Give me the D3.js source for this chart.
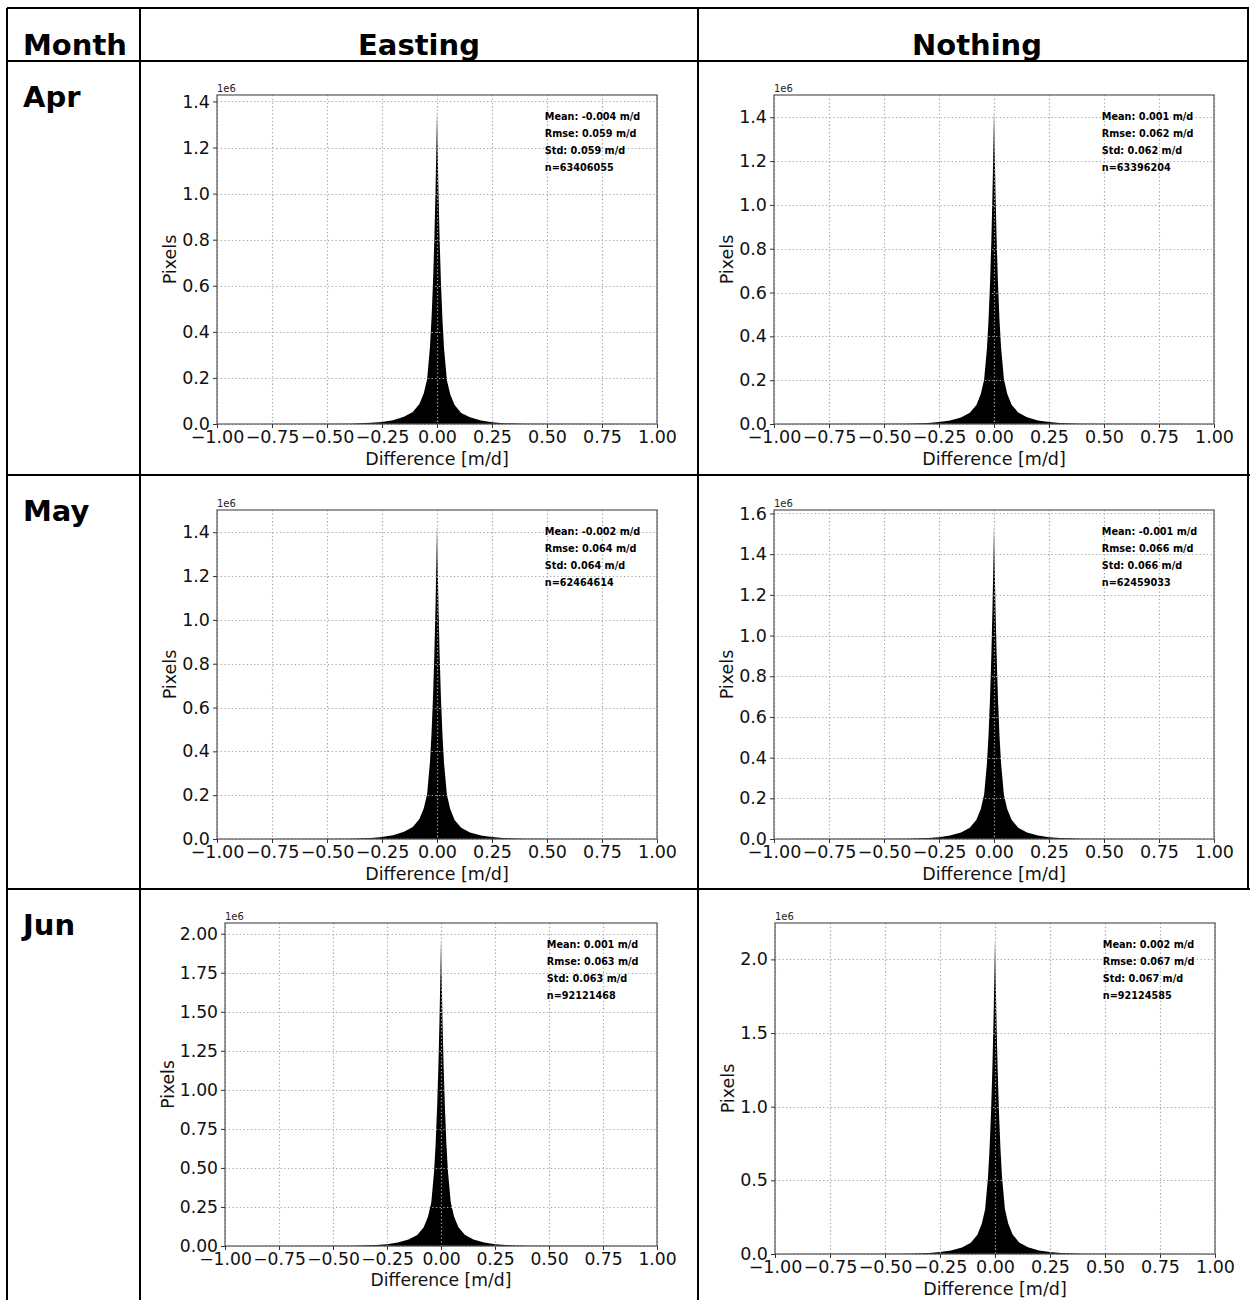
<!DOCTYPE html>
<html>
<head>
<meta charset="utf-8">
<script src="https://cdn.jsdelivr.net/npm/d3@7"></script>
<style>
  body { margin: 0; background: #fff; }
  svg text { font-family: 'DejaVu Sans', sans-serif; }
</style>
</head>
<body>
<div id="chart"></div>
<script>
// Table content
const months = ['Apr', 'May', 'Jun'];
const components = ['Easting', 'Nothing'];

// Histogram outline samples: difference [m/d] -> pixel count (x1e6)
const diffSamples = [-1, -0.4, -0.3, -0.25, -0.2, -0.15, -0.11, -0.08, -0.06, -0.045, -0.032, -0.025, -0.018, -0.012, -0.007, -0.003,
  0, 0.003, 0.007, 0.012, 0.018, 0.025, 0.032, 0.045, 0.06, 0.08, 0.11, 0.15, 0.2, 0.25, 0.3, 0.4, 1];

const aprEasting = [0, 0.001, 0.005, 0.009, 0.016, 0.031, 0.052, 0.087, 0.133, 0.194, 0.333, 0.456, 0.619, 0.802, 1.0, 1.193,
  1.36, 1.19, 0.997, 0.798, 0.612, 0.449, 0.328, 0.19, 0.129, 0.082, 0.048, 0.029, 0.015, 0.0075, 0.0034, 0.0008, 0];
const aprNothing = [0, 0.001, 0.0043, 0.0086, 0.0157, 0.030, 0.0515, 0.087, 0.137, 0.202, 0.346, 0.472, 0.644, 0.839, 1.048, 1.251,
  1.43, 1.255, 1.05, 0.842, 0.647, 0.475, 0.35, 0.205, 0.138, 0.088, 0.052, 0.031, 0.0165, 0.0088, 0.0044, 0.0011, 0];
const mayEasting = [0, 0.0013, 0.005, 0.0093, 0.0172, 0.0329, 0.0543, 0.0915, 0.140, 0.204, 0.350, 0.479, 0.651, 0.844, 1.051, 1.254,
  1.43, 1.251, 1.048, 0.839, 0.644, 0.472, 0.346, 0.202, 0.137, 0.087, 0.0515, 0.030, 0.0157, 0.0086, 0.0043, 0.001, 0];
const mayNothing = [0, 0.0011, 0.0046, 0.0092, 0.0169, 0.0323, 0.0554, 0.094, 0.148, 0.217, 0.373, 0.508, 0.693, 0.904, 1.129, 1.348,
  1.54, 1.348, 1.129, 0.904, 0.693, 0.508, 0.373, 0.217, 0.148, 0.094, 0.0554, 0.0323, 0.0169, 0.0092, 0.0046, 0.0011, 0];
const junEasting = [0, 0.0014, 0.0059, 0.0118, 0.0217, 0.0414, 0.0709, 0.120, 0.189, 0.278, 0.477, 0.650, 0.887, 1.156, 1.444, 1.724,
  1.97, 1.727, 1.447, 1.159, 0.89, 0.653, 0.48, 0.281, 0.191, 0.122, 0.072, 0.042, 0.022, 0.012, 0.006, 0.0015, 0];
const junNothing = [0, 0.0015, 0.0064, 0.0128, 0.0235, 0.0449, 0.077, 0.131, 0.205, 0.302, 0.518, 0.706, 0.963, 1.256, 1.569, 1.873,
  2.14, 1.876, 1.572, 1.259, 0.966, 0.709, 0.521, 0.305, 0.207, 0.133, 0.078, 0.046, 0.024, 0.013, 0.0066, 0.0016, 0];

// Stats printed in each panel (Apr E, Apr N, May E, May N, Jun E, Jun N)
const statMean = [-0.004, 0.001, -0.002, -0.001, 0.001, 0.002];
const statRmse = [0.059, 0.062, 0.064, 0.066, 0.063, 0.067];
const statStd = [0.059, 0.062, 0.064, 0.066, 0.063, 0.067];
const statN = [63406055, 63396204, 62464614, 62459033, 92121468, 92124585];

// Ticks
const xTicks = [-1, -0.75, -0.5, -0.25, 0, 0.25, 0.5, 0.75, 1];
const yTicks14 = [0, 0.2, 0.4, 0.6, 0.8, 1.0, 1.2, 1.4];
const yTicks16 = [0, 0.2, 0.4, 0.6, 0.8, 1.0, 1.2, 1.4, 1.6];
const yTicks200 = [0, 0.25, 0.5, 0.75, 1.0, 1.25, 1.5, 1.75, 2.0];
const yTicks20 = [0, 0.5, 1.0, 1.5, 2.0];

const W = 1250, H = 1300;

const svg = d3.select('#chart').append('svg')
  .attr('width', W)
  .attr('height', H);

svg.append('rect').attr('width', W).attr('height', H).attr('fill', '#fff');

// Panels: axes box in page pixels, s = image scale inside the cell
const panels = [
  { data: aprEasting, yTicks: yTicks14, fmt: '.1f', box: [217, 95, 657, 424], s: 1 },
  { data: aprNothing, yTicks: yTicks14, fmt: '.1f', box: [774, 95, 1214, 424], s: 1 },
  { data: mayEasting, yTicks: yTicks14, fmt: '.1f', box: [217, 510, 657, 839], s: 1 },
  { data: mayNothing, yTicks: yTicks16, fmt: '.1f', box: [774, 510, 1214, 839], s: 1 },
  { data: junEasting, yTicks: yTicks200, fmt: '.2f', box: [225, 923, 657, 1246], s: 0.982 },
  { data: junNothing, yTicks: yTicks20, fmt: '.1f', box: [775, 923, 1215, 1254], s: 1 }
];

const baseFont = 17.5;

panels.forEach((p, i) => {
  const [left, top, right, bottom] = p.box;
  const fs = baseFont * p.s;
  const points = diffSamples.map((d, k) => [d, p.data[k]]);

  const x = d3.scaleLinear().domain([-1, 1]).range([left, right]);
  const y = d3.scaleLinear().domain([0, d3.max(p.data) * 1.05]).range([bottom, top]);

  const g = svg.append('g');

  // histogram body
  g.append('path')
    .datum(points)
    .attr('fill', '#000')
    .attr('d', d3.area()
      .x(d => x(d[0]))
      .y0(y(0))
      .y1(d => y(d[1])));

  // grid on top of the bars (classic style)
  g.selectAll('.gx')
    .data(xTicks)
    .enter()
    .append('line')
    .attr('x1', d => Math.round(x(d)) + 0.5)
    .attr('x2', d => Math.round(x(d)) + 0.5)
    .attr('y1', top)
    .attr('y2', bottom)
    .attr('stroke', '#a8a8a8')
    .attr('stroke-width', 1.2)
    .attr('stroke-dasharray', '1.3,2.4');

  g.selectAll('.gy')
    .data(p.yTicks)
    .enter()
    .append('line')
    .attr('x1', left)
    .attr('x2', right)
    .attr('y1', d => Math.round(y(d)) + 0.5)
    .attr('y2', d => Math.round(y(d)) + 0.5)
    .attr('stroke', '#a8a8a8')
    .attr('stroke-width', 1.2)
    .attr('stroke-dasharray', '1.3,2.4');

  // frame
  g.append('rect')
    .attr('x', left)
    .attr('y', top)
    .attr('width', right - left)
    .attr('height', bottom - top)
    .attr('fill', 'none')
    .attr('stroke', '#555')
    .attr('stroke-width', 1.2);

  // axes
  const xAxisG = g.append('g')
    .attr('transform', `translate(0,${bottom})`)
    .call(d3.axisBottom(x)
      .tickValues(xTicks)
      .tickFormat(d3.format('.2f'))
      .tickSize(4)
      .tickPadding(3));

  const yAxisG = g.append('g')
    .attr('transform', `translate(${left},0)`)
    .call(d3.axisLeft(y)
      .tickValues(p.yTicks)
      .tickFormat(d3.format(p.fmt))
      .tickSize(4)
      .tickPadding(3));

  [xAxisG, yAxisG].forEach(a => {
    a.select('.domain').remove();
    a.selectAll('.tick line').attr('stroke', '#333');
    a.selectAll('.tick text')
      .attr('fill', '#111')
      .style('font-family', "'DejaVu Sans', sans-serif")
      .style('font-size', fs + 'px');
  });

  // offset label
  g.append('text')
    .attr('x', left)
    .attr('y', top - 3)
    .style('font-size', '10px')
    .attr('fill', '#222')
    .text('1e6');

  // axis titles
  g.append('text')
    .attr('x', (left + right) / 2)
    .attr('y', bottom + 40.5 * p.s)
    .attr('text-anchor', 'middle')
    .style('font-size', fs + 'px')
    .attr('fill', '#111')
    .text('Difference [m/d]');

  const yBox = yAxisG.node().getBBox();
  g.append('text')
    .attr('transform', `translate(${left + yBox.x - 6},${(top + bottom) / 2}) rotate(-90)`)
    .attr('text-anchor', 'middle')
    .style('font-size', fs + 'px')
    .attr('fill', '#111')
    .text('Pixels');

  // stats block
  const lines = [
    `Mean: ${statMean[i].toFixed(3)} m/d`,
    `Rmse: ${statRmse[i].toFixed(3)} m/d`,
    `Std: ${statStd[i].toFixed(3)} m/d`,
    `n=${statN[i]}`
  ];
  g.selectAll('.stat')
    .data(lines)
    .enter()
    .append('text')
    .attr('x', left + 0.745 * (right - left))
    .attr('y', (d, k) => top + 25 + k * 17)
    .style('font-size', '9.7px')
    .style('font-weight', 'bold')
    .attr('fill', '#000')
    .text(d => d);
});

// Table grid
const tableLines = [
  [7, 8, 1249, 8], [7, 61, 1249, 61], [7, 475, 1250, 475], [7, 889, 1250, 889],
  [7, 8, 7, 1300], [140, 8, 140, 1300], [698, 8, 698, 1300], [1248, 8, 1248, 889]
];
svg.selectAll('.tline')
  .data(tableLines)
  .enter()
  .append('line')
  .attr('x1', d => d[0])
  .attr('y1', d => d[1])
  .attr('x2', d => d[2])
  .attr('y2', d => d[3])
  .attr('stroke', '#000')
  .attr('stroke-width', 2);

// Header
svg.append('text')
  .attr('x', 23)
  .attr('y', 55)
  .style('font-size', '29px')
  .style('font-weight', 'bold')
  .text('Month');

components.forEach((c, k) => {
  svg.append('text')
    .attr('x', k === 0 ? 419 : 977)
    .attr('y', 55)
    .attr('text-anchor', 'middle')
    .style('font-size', '29px')
    .style('font-weight', 'bold')
    .text(c);
});

months.forEach((m, k) => {
  svg.append('text')
    .attr('x', 23)
    .attr('y', 107 + k * 414)
    .style('font-size', '29px')
    .style('font-weight', 'bold')
    .text(m);
});
</script>
</body>
</html>
